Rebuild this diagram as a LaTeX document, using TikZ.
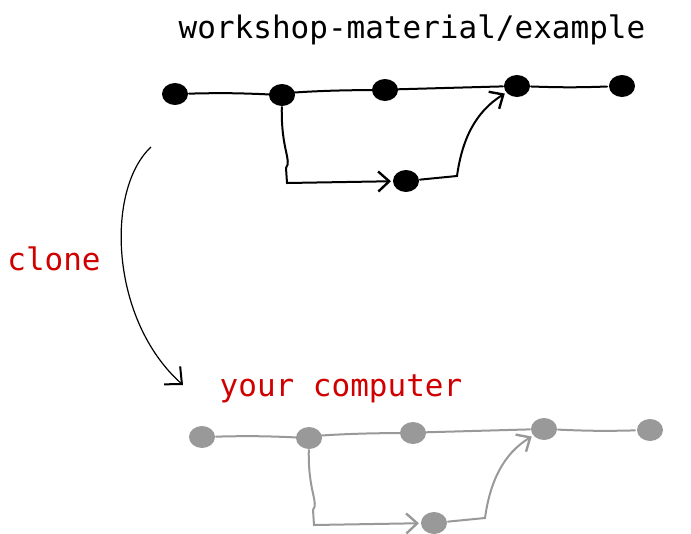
\documentclass[tikz,border=0pt]{standalone}
\usepackage{fontspec}
\setmonofont{DejaVu Sans Mono}
\usetikzlibrary{%
  arrows.meta,%
  shapes.geometric,% wg. ellipse
  positioning,%
  calc%
}
\definecolor{clonered}{RGB}{208,0,0}
\definecolor{copygray}{RGB}{153,153,153}

\begin{document}
\begin{tikzpicture}
  [
  x=1pt, y=-1pt,
  font=\ttfamily\fontsize{31}{31}\selectfont,
  line width=2pt,
  >={Straight Barb[length=11pt,width=20pt,line width=2.4pt]},
  commit/.style={ellipse, inner sep=0pt, minimum width=26pt, minimum height=22pt, fill=#1},
  history/.style={draw=#1, line cap=round, shorten >=1pt},
  title/.style={anchor=base, inner sep=0pt},
  ]

\useasboundingbox (0,0) rectangle (691,533);

% remote repository
\node[title] (remotename) at (412,38) {workshop-material/example};
\node[commit=black] (r1) at (175,94) {};
\node[commit=black] (r2) at (282,95) {};
\node[commit=black] (r3) at (385,90) {};
\node[commit=black] (r4) at (517,86) {};
\node[commit=black] (r5) at (622,86) {};
\node[commit=black] (rb) at (406,181) {};
\coordinate (rdown) at (287,183);
\coordinate (rup) at (457,176);

\draw[history=black] (r1) to[bend left=2] (r2) to[bend left=2] (r3) -- (r4) to[bend right=2] (r5);
\draw[history=black,->] (r2) .. controls (281,150) and (292,160) .. (286,168) -- (rdown) -- (rb);
\draw[history=black,->] (rb) -- (rup) .. controls (462,140) and (475,112) .. (r4);

% clone
\node[title,text=clonered] (clonename) at (54,270) {clone};
\coordinate (clonefrom) at (151,147);
\coordinate (cloneto) at (183,385);
\draw[line width=1.2pt,-{Straight Barb[length=13pt,width=24pt,line width=2pt]}] (clonefrom) .. controls (105,190) and (110,320) .. (cloneto);

% local copy
\node[title,text=clonered] (localname) at (341,396) {your computer};
\node[commit=copygray] (l1) at (202,437) {};
\node[commit=copygray] (l2) at (309,438) {};
\node[commit=copygray] (l3) at (413,433) {};
\node[commit=copygray] (l4) at (544,429) {};
\node[commit=copygray] (l5) at (650,430) {};
\node[commit=copygray] (lb) at (434,523) {};
\coordinate (ldown) at (314,525);
\coordinate (lup) at (485,518);

\draw[history=copygray] (l1) to[bend left=2] (l2) to[bend left=2] (l3) -- (l4) to[bend right=2] (l5);
\draw[history=copygray,->] (l2) .. controls (308,492) and (319,502) .. (313,510) -- (ldown) -- (lb);
\draw[history=copygray,->] (lb) -- (lup) .. controls (490,482) and (503,454) .. (l4);
\end{tikzpicture}
\end{document}
